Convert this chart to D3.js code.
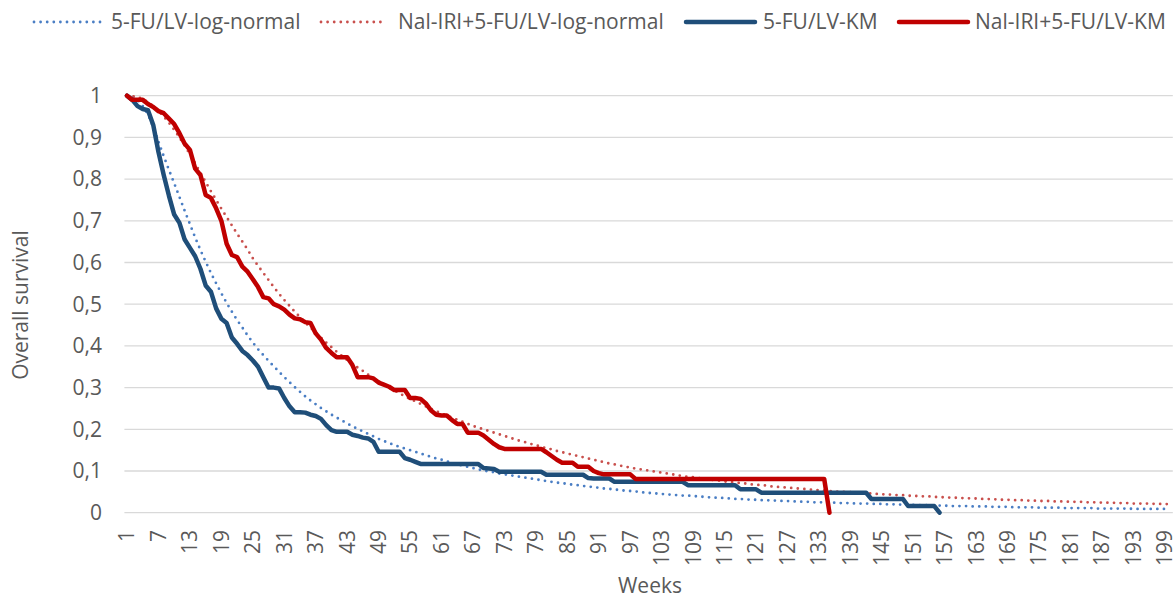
<!DOCTYPE html>
<html>
<head>
<meta charset="utf-8">
<script src="https://cdn.jsdelivr.net/npm/d3@7"></script>
<style>
    body { margin: 0; background: #fff; }
    text { font-family: "Open Sans", sans-serif; fill: #595959; }
</style>
</head>
<body>
<svg id="chart" width="1173" height="599"></svg>
<script>
// weeks on the category axis
const weeks = d3.range(1, 201);
const xTickLabels = [1, 7, 13, 19, 25, 31, 37, 43, 49, 55, 61, 67, 73, 79, 85, 91, 97, 103, 109, 115,
    121, 127, 133, 139, 145, 151, 157, 163, 169, 175, 181, 187, 193, 199];
const yTicks = [0, 0.1, 0.2, 0.3, 0.4, 0.5, 0.6, 0.7, 0.8, 0.9, 1];
const yTickLabels = ['0', '0,1', '0,2', '0,3', '0,4', '0,5', '0,6', '0,7', '0,8', '0,9', '1'];

const seriesNames = ['5-FU/LV-log-normal', 'Nal-IRI+5-FU/LV-log-normal', '5-FU/LV-KM', 'Nal-IRI+5-FU/LV-KM'];

// fitted log-normal curves, weeks 1..200
const fuLogNormal = [
    1.000, 0.998, 0.990, 0.975, 0.955, 0.925, 0.890, 0.855, 0.822, 0.790,
    0.757, 0.724, 0.692, 0.660, 0.630, 0.602, 0.575, 0.550, 0.526, 0.503,
    0.482, 0.462, 0.444, 0.425, 0.408, 0.392, 0.378, 0.364, 0.351, 0.338,
    0.325, 0.313, 0.301, 0.290, 0.279, 0.269, 0.260, 0.251, 0.243, 0.235,
    0.228, 0.221, 0.214, 0.207, 0.201, 0.195, 0.189, 0.183, 0.177, 0.172,
    0.167, 0.162, 0.158, 0.154, 0.150, 0.146, 0.142, 0.138, 0.134, 0.130,
    0.127, 0.123, 0.120, 0.116, 0.113, 0.110, 0.107, 0.104, 0.101, 0.099,
    0.097, 0.094, 0.092, 0.090, 0.088, 0.086, 0.084, 0.082, 0.080, 0.078,
    0.076, 0.074, 0.072, 0.071, 0.069, 0.067, 0.066, 0.064, 0.063, 0.061,
    0.060, 0.058, 0.057, 0.056, 0.054, 0.053, 0.052, 0.051, 0.049, 0.048,
    0.047, 0.046, 0.045, 0.044, 0.043, 0.042, 0.041, 0.041, 0.040, 0.039,
    0.038, 0.037, 0.036, 0.036, 0.035, 0.034, 0.033, 0.033, 0.032, 0.031,
    0.031, 0.030, 0.030, 0.029, 0.029, 0.028, 0.028, 0.027, 0.027, 0.026,
    0.026, 0.025, 0.025, 0.025, 0.024, 0.024, 0.023, 0.023, 0.023, 0.022,
    0.022, 0.022, 0.021, 0.021, 0.021, 0.020, 0.020, 0.020, 0.019, 0.019,
    0.019, 0.018, 0.018, 0.018, 0.017, 0.017, 0.017, 0.016, 0.016, 0.016,
    0.016, 0.015, 0.015, 0.015, 0.015, 0.014, 0.014, 0.014, 0.014, 0.013,
    0.013, 0.013, 0.013, 0.013, 0.012, 0.012, 0.012, 0.012, 0.012, 0.011,
    0.011, 0.011, 0.011, 0.011, 0.011, 0.010, 0.010, 0.010, 0.010, 0.010,
    0.010, 0.010, 0.009, 0.009, 0.009, 0.009, 0.009, 0.009, 0.009, 0.008
];
const nalLogNormal = [
    1.000, 0.999, 0.997, 0.992, 0.985, 0.975, 0.963, 0.950, 0.935, 0.918,
    0.900, 0.880, 0.860, 0.838, 0.815, 0.793, 0.771, 0.750, 0.729, 0.709,
    0.689, 0.669, 0.650, 0.631, 0.610, 0.592, 0.575, 0.558, 0.541, 0.525,
    0.510, 0.496, 0.482, 0.469, 0.456, 0.444, 0.432, 0.420, 0.408, 0.397,
    0.386, 0.376, 0.366, 0.357, 0.348, 0.340, 0.331, 0.323, 0.315, 0.307,
    0.300, 0.293, 0.286, 0.279, 0.273, 0.267, 0.261, 0.255, 0.249, 0.243,
    0.238, 0.233, 0.228, 0.223, 0.218, 0.213, 0.208, 0.204, 0.200, 0.196,
    0.192, 0.188, 0.184, 0.180, 0.176, 0.172, 0.169, 0.165, 0.162, 0.158,
    0.155, 0.152, 0.148, 0.145, 0.142, 0.139, 0.136, 0.133, 0.130, 0.127,
    0.124, 0.121, 0.118, 0.116, 0.113, 0.111, 0.108, 0.106, 0.104, 0.102,
    0.100, 0.098, 0.096, 0.094, 0.092, 0.090, 0.088, 0.086, 0.085, 0.083,
    0.081, 0.080, 0.078, 0.077, 0.075, 0.074, 0.072, 0.071, 0.070, 0.068,
    0.067, 0.066, 0.065, 0.063, 0.062, 0.061, 0.060, 0.059, 0.058, 0.057,
    0.056, 0.055, 0.054, 0.053, 0.052, 0.051, 0.050, 0.050, 0.049, 0.048,
    0.047, 0.047, 0.046, 0.045, 0.044, 0.044, 0.043, 0.042, 0.042, 0.041,
    0.040, 0.040, 0.039, 0.039, 0.038, 0.037, 0.037, 0.036, 0.036, 0.035,
    0.035, 0.034, 0.034, 0.033, 0.033, 0.032, 0.032, 0.031, 0.031, 0.030,
    0.030, 0.030, 0.029, 0.029, 0.028, 0.028, 0.028, 0.027, 0.027, 0.027,
    0.026, 0.026, 0.026, 0.025, 0.025, 0.025, 0.024, 0.024, 0.024, 0.023,
    0.023, 0.023, 0.022, 0.022, 0.022, 0.022, 0.021, 0.021, 0.021, 0.020
];

// Kaplan-Meier estimates, from week 1
const fuKM = [
    1, 0.99, 0.975, 0.968, 0.965, 0.93, 0.865, 0.81, 0.76, 0.715,
    0.695, 0.655, 0.635, 0.615, 0.585, 0.545, 0.53, 0.49, 0.465, 0.455,
    0.42, 0.405, 0.388, 0.378, 0.365, 0.35, 0.325, 0.30, 0.30, 0.298,
    0.275, 0.255, 0.241, 0.241, 0.24, 0.235, 0.232, 0.225, 0.21, 0.198,
    0.194, 0.194, 0.194, 0.187, 0.184, 0.18, 0.178, 0.17, 0.146, 0.146,
    0.146, 0.146, 0.146, 0.131, 0.127, 0.122, 0.117, 0.117, 0.117, 0.117,
    0.117, 0.117, 0.117, 0.117, 0.117, 0.117, 0.117, 0.117, 0.107, 0.106,
    0.105, 0.098, 0.098, 0.098, 0.098, 0.098, 0.098, 0.098, 0.098, 0.098,
    0.091, 0.091, 0.091, 0.091, 0.091, 0.091, 0.091, 0.091, 0.083, 0.082,
    0.082, 0.082, 0.082, 0.074, 0.074, 0.074, 0.074, 0.074, 0.074, 0.074,
    0.074, 0.074, 0.074, 0.074, 0.074, 0.074, 0.074, 0.066, 0.066, 0.066,
    0.066, 0.066, 0.066, 0.066, 0.066, 0.066, 0.066, 0.056, 0.056, 0.056,
    0.056, 0.048, 0.048, 0.048, 0.048, 0.048, 0.048, 0.048, 0.048, 0.048,
    0.048, 0.048, 0.048, 0.048, 0.048, 0.048, 0.048, 0.048, 0.048, 0.048,
    0.048, 0.048, 0.033, 0.033, 0.033, 0.033, 0.033, 0.033, 0.033, 0.016,
    0.016, 0.016, 0.016, 0.016, 0.016, 0
];
const nalKM = [
    1, 0.99, 0.99, 0.99, 0.98, 0.973, 0.963, 0.958, 0.945, 0.932,
    0.91, 0.885, 0.87, 0.825, 0.81, 0.762, 0.755, 0.73, 0.70, 0.645,
    0.618, 0.613, 0.59, 0.578, 0.56, 0.541, 0.517, 0.514, 0.50, 0.495,
    0.487, 0.475, 0.466, 0.464, 0.457, 0.455, 0.43, 0.415, 0.395, 0.383,
    0.373, 0.373, 0.373, 0.354, 0.325, 0.325, 0.325, 0.322, 0.312, 0.307,
    0.302, 0.294, 0.294, 0.294, 0.275, 0.275, 0.273, 0.262, 0.245, 0.235,
    0.233, 0.233, 0.222, 0.213, 0.213, 0.192, 0.192, 0.192, 0.185, 0.175,
    0.165, 0.157, 0.153, 0.153, 0.153, 0.153, 0.153, 0.153, 0.153, 0.153,
    0.145, 0.136, 0.127, 0.12, 0.12, 0.12, 0.11, 0.11, 0.11, 0.10,
    0.095, 0.092, 0.092, 0.092, 0.092, 0.092, 0.092, 0.081, 0.081, 0.081,
    0.081, 0.081, 0.081, 0.081, 0.081, 0.081, 0.081, 0.081, 0.081, 0.081,
    0.081, 0.081, 0.081, 0.081, 0.081, 0.081, 0.081, 0.081, 0.081, 0.081,
    0.081, 0.081, 0.081, 0.081, 0.081, 0.081, 0.081, 0.081, 0.081, 0.081,
    0.081, 0.081, 0.081, 0.081, 0
];

const plot = { left: 124.4, right: 1172.8, top: 95.7, bottom: 512.7 };

const svg = d3.select('#chart');

const x = d3.scaleBand()
    .domain(weeks)
    .range([plot.left, plot.right]);

const y = d3.scaleLinear()
    .domain([0, 1])
    .range([plot.bottom, plot.top]);

const cx = w => x(w) + x.bandwidth() / 2;

// horizontal gridlines
svg.append('g')
    .selectAll('line')
    .data(yTicks)
    .enter().append('line')
    .attr('x1', plot.left)
    .attr('x2', plot.right)
    .attr('y1', d => y(d))
    .attr('y2', d => y(d))
    .attr('stroke', '#d9d9d9')
    .attr('stroke-width', 1.3);

// y tick labels
svg.append('g')
    .selectAll('text')
    .data(yTicks)
    .enter().append('text')
    .attr('x', 102)
    .attr('y', d => y(d))
    .attr('dy', '0.35em')
    .attr('text-anchor', 'end')
    .attr('font-size', '21px')
    .text((d, i) => yTickLabels[i]);

// x tick labels (rotated)
svg.append('g')
    .selectAll('text')
    .data(xTickLabels)
    .enter().append('text')
    .attr('transform', d => `translate(${cx(d)},530) rotate(-90)`)
    .attr('dy', '0.35em')
    .attr('text-anchor', 'end')
    .attr('font-size', '21px')
    .text(d => d);

// axis titles
svg.append('text')
    .attr('x', 650)
    .attr('y', 593)
    .attr('text-anchor', 'middle')
    .attr('font-size', '21px')
    .text('Weeks');

svg.append('text')
    .attr('transform', 'translate(28,305) rotate(-90)')
    .attr('text-anchor', 'middle')
    .attr('font-size', '21px')
    .text('Overall survival');

const series = [
    { name: seriesNames[0], values: fuLogNormal, color: '#4a7ec4', dotted: true },
    { name: seriesNames[1], values: nalLogNormal, color: '#c9504d', dotted: true },
    { name: seriesNames[2], values: fuKM, color: '#1f4e79', dotted: false },
    { name: seriesNames[3], values: nalKM, color: '#c00000', dotted: false }
];

const line = d3.line()
    .x(d => cx(d.week))
    .y(d => y(d.value));

function styleLine(sel, s) {
    sel.attr('fill', 'none')
        .attr('stroke', s.color)
        .attr('stroke-linejoin', 'round')
        .attr('stroke-linecap', 'round');
    if (s.dotted) {
        sel.attr('stroke-width', 2.8).attr('stroke-dasharray', '0 6.6');
    } else {
        sel.attr('stroke-width', 4.5);
    }
}

series.forEach(s => {
    const pts = s.values.map((v, i) => ({ week: weeks[i], value: v }));
    svg.append('path')
        .datum(pts)
        .attr('d', line)
        .call(styleLine, s);
});

// legend
const legendPos = [
    { x1: 34, x2: 100, tx: 111 },
    { x1: 321, x2: 385, tx: 398 },
    { x1: 686, x2: 755, tx: 763 },
    { x1: 899, x2: 968, tx: 975 }
];
const legendY = 22;

series.forEach((s, i) => {
    const p = legendPos[i];
    svg.append('line')
        .attr('x1', p.x1)
        .attr('x2', p.x2)
        .attr('y1', legendY)
        .attr('y2', legendY)
        .call(styleLine, s);
    svg.append('text')
        .attr('x', p.tx)
        .attr('y', legendY)
        .attr('dy', '0.35em')
        .attr('font-size', '21px')
        .text(s.name);
});
</script>
</body>
</html>
